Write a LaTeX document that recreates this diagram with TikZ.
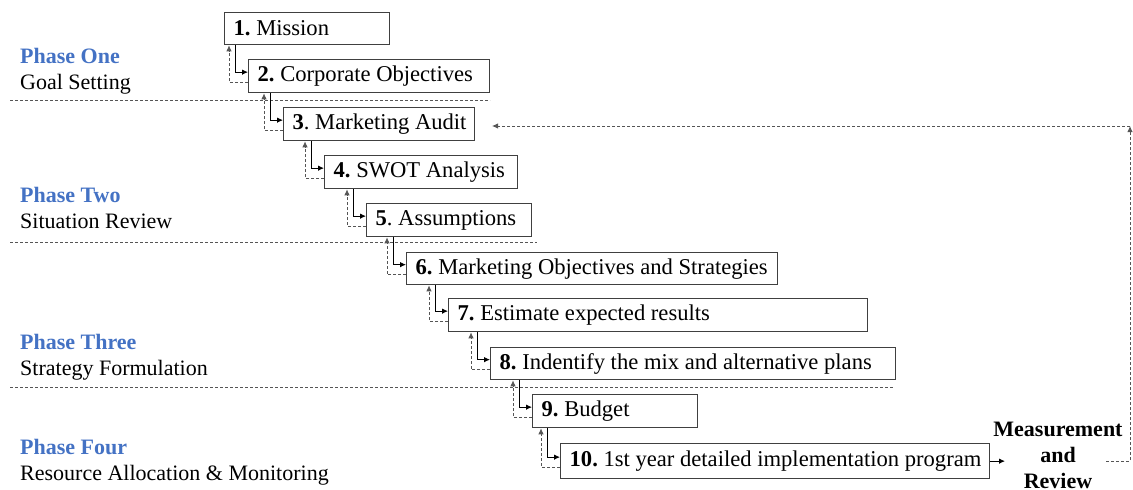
\documentclass[tikz,border=0pt]{standalone}
\usepackage{fontspec}
\setmainfont{Liberation Serif}
\usetikzlibrary{arrows.meta,calc}
\definecolor{phaseblue}{HTML}{4472C4}
\definecolor{boxgray}{HTML}{404040}
\definecolor{dashgray}{HTML}{555555}
\newcommand{\boxtxt}[2]{\makebox[#1][l]{#2}}
\tikzset{
  stagebox/.style={draw=boxgray, line width=1.3pt, anchor=north west, inner xsep=9pt, inner ysep=0pt,
    minimum height=33pt, font=\fontsize{22.6}{26}\selectfont\frenchspacing},
  solidconn/.style={draw=black, line width=0.9pt, -{Latex[length=6pt,width=5.5pt]}},
  dashconn/.style={draw=dashgray, line width=0.9pt, dash pattern=on 3pt off 2pt, -{Latex[length=6pt,width=5.5pt]}},
  sepline/.style={draw=dashgray, line width=1pt, dash pattern=on 3pt off 2pt},
  phaselabel/.style={anchor=west, align=left, inner sep=0pt, font=\fontsize{22}{26}\selectfont},
}
\begin{document}
\begin{tikzpicture}[x=1pt,y=-1pt]
\useasboundingbox (0,0) rectangle (1133,490);

% separators
\coordinate (sa0) at (10,100); \coordinate (sa1) at (490,100);
\coordinate (sb0) at (10,242); \coordinate (sb1) at (537,242);
\coordinate (sc0) at (10,387); \coordinate (sc1) at (894,387);
\draw[sepline] (sa0) -- (sa1);
\draw[sepline] (sb0) -- (sb1);
\draw[sepline] (sc0) -- (sc1);

% phase labels
\node[phaselabel] (p1) at (20,71) {\textbf{\color{phaseblue}Phase One}\\Goal Setting};
\node[phaselabel] (p2) at (20,208) {\textbf{\color{phaseblue}Phase Two}\\Situation Review};
\node[phaselabel] (p3) at (20,357) {\textbf{\color{phaseblue}Phase Three}\\Strategy Formulation};
\node[phaselabel] (p4) at (20,462) {\textbf{\color{phaseblue}Phase Four}\\Resource Allocation \& Monitoring};

% boxes
\node[stagebox, minimum height=32pt] (b1) at (224,12) {\boxtxt{147pt}{\textbf{1.} Mission}};
\node[stagebox] (b2) at (248,59) {\boxtxt{223pt}{\textbf{2.} Corporate Objectives}};
\node[stagebox] (b3) at (283,107) {\boxtxt{173pt}{\textbf{3}. Marketing Audit}};
\node[stagebox] (b4) at (324,155) {\boxtxt{175pt}{\textbf{4.} SWOT Analysis}};
\node[stagebox] (b5) at (366,203) {\boxtxt{147pt}{\textbf{5}. Assumptions}};
\node[stagebox, minimum height=32pt] (b6) at (406,252) {\boxtxt{353pt}{\textbf{6.} Marketing Objectives and Strategies}};
\node[stagebox] (b7) at (448,298) {\boxtxt{401pt}{\textbf{7.} Estimate expected results}};
\node[stagebox, minimum height=32pt] (b8) at (490,347) {\boxtxt{387pt}{\textbf{8.} Indentify the mix and alternative plans}};
\node[stagebox] (b9) at (532,394) {\boxtxt{147pt}{\textbf{9.} Budget}};
\node[stagebox, minimum height=35pt] (b10) at (560,443) {\boxtxt{411pt}{\textbf{10.} 1st year detailed implementation program}};

% step connectors
\foreach \a/\b in {1/2,2/3,3/4,4/5,5/6,6/7,7/8,8/9,9/10} {
  \coordinate (s\b) at ([xshift=-13pt,yshift=4pt]b\b.west);
  \coordinate (d\b) at ([xshift=-19pt,yshift=-6pt]b\b.west);
  \draw[solidconn] (s\b |- b\a.south) -- (s\b) -- ([yshift=4pt]b\b.west);
  \draw[dashconn] ([yshift=-6pt]b\b.west) -- (d\b) -- (d\b |- b\a.south);
}

% measurement and review
\node[align=center, inner sep=0pt, font=\fontsize{22}{26}\selectfont\bfseries] (mr) at (1058,455) {Measurement\\and\\Review};
\coordinate (mrx) at (1005,0);
\draw[solidconn] (b10.east) -- (b10.east -| mrx);

% feedback loop
\coordinate (fbx0) at (1106,0);
\coordinate (fbc) at (1130,126);
\coordinate (fbe) at (492,126);
\draw[dashconn] (b10.east -| fbx0) -| (fbc);
\draw[dashconn] (fbc) -- (fbe);
\end{tikzpicture}
\end{document}
